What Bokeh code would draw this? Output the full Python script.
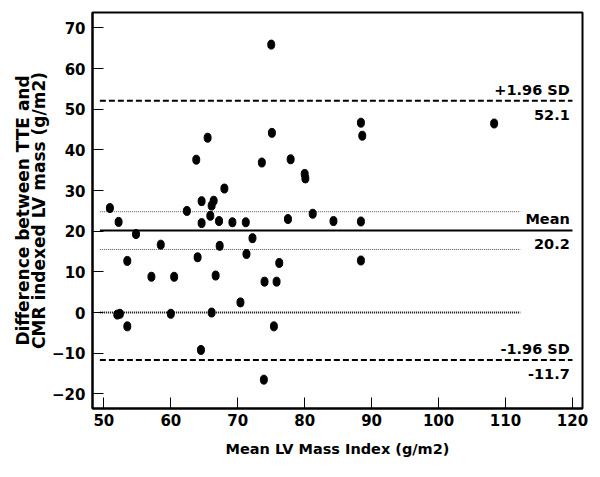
from bokeh.plotting import figure
from bokeh.models import ColumnDataSource, FixedTicker, Range1d
from bokeh.core.properties import value
from bokeh.embed import file_html
from bokeh.resources import INLINE

# Data
mean_lv = [50.9, 52.2, 54.8, 58.5, 53.5, 57.1, 60.5, 52.0, 52.4, 53.5,
           60.0, 62.4, 63.8, 64.0, 64.6, 64.6, 64.5, 65.5, 65.9, 66.1,
           66.4, 66.1, 66.7, 67.2, 67.3, 68.0, 69.2, 70.4, 71.2, 71.3,
           72.2, 73.6, 74.0, 73.9, 75.0, 75.1, 75.4, 75.8, 76.2, 77.5,
           77.9, 80.0, 80.1, 81.2, 84.3, 88.4, 88.4, 88.6, 88.4, 108.3]
diff = [25.7, 22.3, 19.3, 16.7, 12.7, 8.8, 8.8, -0.5, -0.3, -3.4,
        -0.3, 25.0, 37.6, 13.6, 27.4, 22.0, -9.2, 43.0, 23.8, 26.3,
        27.5, 0.0, 9.1, 22.5, 16.4, 30.5, 22.2, 2.5, 22.2, 14.4,
        18.3, 36.9, 7.6, -16.5, 65.9, 44.2, -3.4, 7.6, 12.2, 23.0,
        37.7, 34.1, 33.0, 24.3, 22.5, 22.4, 46.7, 43.5, 12.8, 46.5]

mean_diff = 20.2
upper_loa = 52.1
lower_loa = -11.7
ci_upper = 24.8
ci_lower = 15.5
zero_line = 0.0

x_ticks = [50, 60, 70, 80, 90, 100, 110, 120]
y_ticks = [-20, -10, 0, 10, 20, 30, 40, 50, 60, 70]

line_labels = ["+1.96 SD", "52.1", "Mean", "20.2", "-1.96 SD", "-11.7"]
label_y = [upper_loa, upper_loa, mean_diff, mean_diff, lower_loa, lower_loa]

FONT = "DejaVu Sans"

p = figure(width=600, height=477, output_backend="svg", toolbar_location=None,
           x_range=Range1d(48.3, 121.5), y_range=Range1d(-23.6, 73.8),
           min_border_left=92, min_border_right=18, min_border_top=12, min_border_bottom=69)
p.background_fill_color = "white"
p.border_fill_color = "white"
p.outline_line_color = "black"
p.outline_line_width = 2
p.grid.visible = False

for ax in (p.xaxis[0], p.yaxis[0]):
    ax.major_tick_in = 11
    ax.major_tick_out = 0
    ax.minor_tick_line_color = None
    ax.axis_line_width = 2
    ax.major_tick_line_width = 1
    ax.major_label_text_font = FONT
    ax.major_label_text_font_style = "bold"
    ax.major_label_text_font_size = "15px"
    ax.major_label_text_color = "black"
    ax.axis_label_text_font = FONT
    ax.axis_label_text_font_style = "bold"
    ax.axis_label_text_color = "black"

p.xaxis.ticker = FixedTicker(ticks=x_ticks)
p.yaxis.ticker = FixedTicker(ticks=y_ticks)
p.xaxis.axis_label = "Mean LV Mass Index (g/m2)"
p.yaxis.axis_label = "Difference between TTE and\nCMR indexed LV mass (g/m2)"
p.xaxis.axis_label_text_font_size = "14.5px"
p.yaxis.axis_label_text_font_size = "17px"
p.yaxis.axis_label_text_line_height = 0.82
p.xaxis.major_label_standoff = 5
p.yaxis.major_label_standoff = 7
p.xaxis.axis_label_standoff = 12
p.yaxis.axis_label_standoff = 0

# reference lines
x_long = [49.4, 120]
x_short = [49.4, 112.2]
p.line(x_long, [upper_loa, upper_loa], line_color="black", line_width=2, line_dash="6 3")
p.line(x_long, [lower_loa, lower_loa], line_color="black", line_width=2, line_dash="6 3")
p.line(x_long, [mean_diff, mean_diff], line_color="black", line_width=2)
p.line(x_short, [ci_upper, ci_upper], line_color="#555555", line_width=1, line_dash="1 1")
p.line(x_short, [ci_lower, ci_lower], line_color="#555555", line_width=1, line_dash="1 1")
p.line(x_short, [zero_line, zero_line], line_color="black", line_width=2, line_dash="1 1")

# points
src = ColumnDataSource(dict(x=mean_lv, y=diff))
p.ellipse(x="x", y="y", width=7, height=9, width_units="screen", height_units="screen",
          source=src, fill_color="black", line_color="black")

# labels
above = ColumnDataSource(dict(x=[119.6] * 3, y=label_y[0::2], t=line_labels[0::2]))
below = ColumnDataSource(dict(x=[119.6] * 3, y=label_y[1::2], t=line_labels[1::2]))
p.text(x="x", y="y", text="t", source=above, text_align="right", text_baseline="bottom",
       y_offset=-3, text_font=value(FONT), text_font_style="bold", text_font_size="14.5px",
       text_color="black")
p.text(x="x", y="y", text="t", source=below, text_align="right", text_baseline="top",
       y_offset=9, text_font=value(FONT), text_font_style="bold", text_font_size="14.5px",
       text_color="black")

open("out.html", "w").write(file_html(p, INLINE))
